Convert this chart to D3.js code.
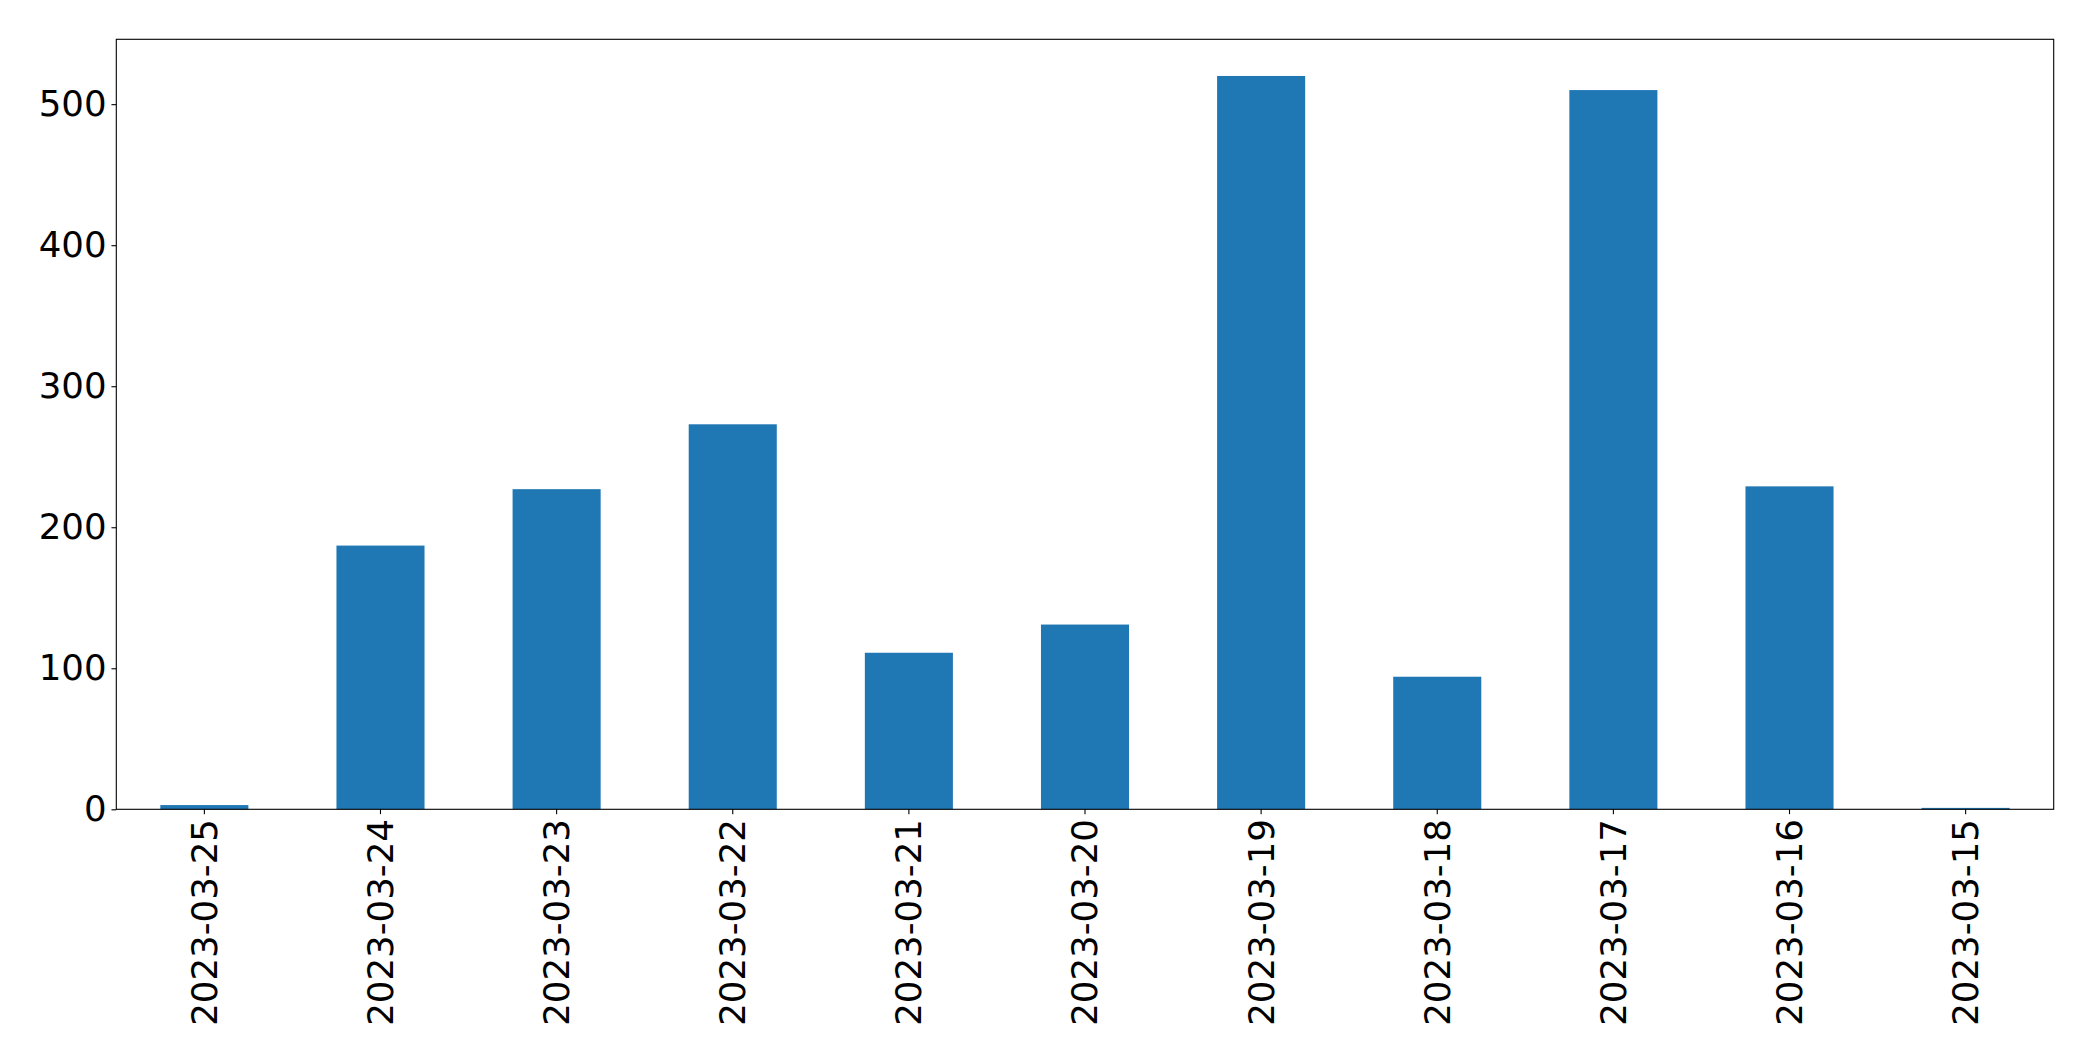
<!DOCTYPE html>
<html>
<head>
<meta charset="utf-8">
<script src="https://cdn.jsdelivr.net/npm/d3@7"></script>
<style>
  html, body { margin: 0; padding: 0; background: #fff; }
  svg { display: block; }
  text { font-family: "DejaVu Sans", sans-serif; fill: #000; }
</style>
</head>
<body>
<svg id="chart" width="2093" height="1061"></svg>
<script>
const categories = ["2023-03-25","2023-03-24","2023-03-23","2023-03-22","2023-03-21","2023-03-20","2023-03-19","2023-03-18","2023-03-17","2023-03-16","2023-03-15"];
const values = [3, 187, 227, 273, 111, 131, 520, 94, 510, 229, 1];
const yTicks = [0, 100, 200, 300, 400, 500];

const width = 2093, height = 1061;
const margin = {top: 39.3, right: 39.3, bottom: 251.7, left: 116.3};
const W = width - margin.left - margin.right;
const H = height - margin.top - margin.bottom;
const fontSize = 35.6;
const tickLen = 4.86, tickPad = 4.86;

const svg = d3.select("#chart");
const g = svg.append("g").attr("transform", `translate(${margin.left},${margin.top})`);

const x = d3.scaleBand().domain(categories).range([0, W]).paddingInner(0.5).paddingOuter(0.25);
const y = d3.scaleLinear().domain([0, d3.max(values) * 1.05]).range([H, 0]);

g.selectAll("rect.bar").data(values).enter().append("rect")
  .attr("class", "bar")
  .attr("x", (d, i) => x(categories[i]))
  .attr("width", x.bandwidth())
  .attr("y", d => y(d))
  .attr("height", d => H - y(d))
  .attr("fill", "#1f77b4");

const yAxis = g.append("g").call(d3.axisLeft(y).tickValues(yTicks).tickSize(tickLen).tickPadding(tickPad).tickFormat(d3.format("d")));
yAxis.select(".domain").remove();
yAxis.selectAll("line").attr("stroke", "#000").attr("stroke-width", 1.1);
yAxis.selectAll("text").style("font-size", fontSize + "px").style("font-family", "DejaVu Sans");

const xAxis = g.append("g").attr("transform", `translate(0,${H})`)
  .call(d3.axisBottom(x).tickSize(tickLen).tickPadding(tickPad));
xAxis.select(".domain").remove();
xAxis.selectAll("line").attr("stroke", "#000").attr("stroke-width", 1.1);
xAxis.selectAll("text")
  .style("font-size", fontSize + "px").style("font-family", "DejaVu Sans")
  .attr("transform", "rotate(-90)")
  .attr("text-anchor", "end")
  .attr("x", -(tickLen + tickPad))
  .attr("y", 0)
  .attr("dy", "0.35em");

g.append("rect").attr("x", 0).attr("y", 0).attr("width", W).attr("height", H)
  .attr("fill", "none").attr("stroke", "#000").attr("stroke-width", 1.1);
</script>
</body>
</html>
